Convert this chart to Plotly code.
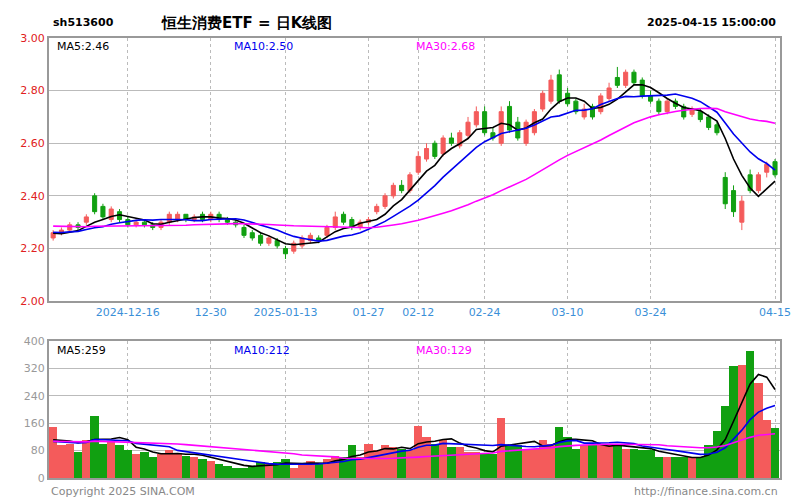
import plotly.graph_objects as go
import pandas as pd
import numpy as np

# trading days 2024-12-03 .. 2025-04-15 (China holidays removed)
holidays = ["2025-01-01", "2025-01-28", "2025-01-29", "2025-01-30", "2025-01-31",
            "2025-02-03", "2025-02-04", "2025-04-04"]
dates = [d for d in pd.bdate_range("2024-12-03", "2025-04-15").strftime("%Y-%m-%d") if d not in holidays]

opens = [2.24,2.26,2.27,2.29,2.30,2.40,2.36,2.31,2.34,2.31,2.29,2.30,2.29,2.28,2.30,2.31,2.33,2.31,2.33,
         2.31,2.33,2.31,2.30,2.28,2.26,2.25,2.22,2.23,2.20,2.19,2.21,2.23,2.24,2.25,2.28,2.33,2.31,2.28,
         2.30,2.34,2.36,2.40,2.44,2.42,2.49,2.54,2.60,2.56,2.62,2.59,2.63,2.67,2.72,2.64,2.60,2.74,2.68,
         2.60,2.64,2.73,2.76,2.86,2.79,2.76,2.70,2.74,2.72,2.77,2.85,2.82,2.87,2.84,2.78,2.76,2.72,2.76,
         2.74,2.71,2.72,2.70,2.67,2.47,2.42,2.30,2.48,2.42,2.49,2.53]
closes = [2.26,2.27,2.29,2.28,2.32,2.34,2.32,2.35,2.31,2.29,2.30,2.29,2.28,2.30,2.33,2.33,2.31,2.32,2.31,
          2.33,2.31,2.30,2.29,2.25,2.24,2.22,2.24,2.21,2.18,2.22,2.24,2.25,2.23,2.28,2.32,2.30,2.28,2.30,
          2.31,2.36,2.40,2.44,2.42,2.48,2.55,2.58,2.55,2.62,2.60,2.64,2.68,2.72,2.64,2.62,2.72,2.65,2.62,
          2.68,2.72,2.79,2.84,2.76,2.75,2.72,2.73,2.70,2.78,2.81,2.82,2.87,2.83,2.78,2.76,2.72,2.76,2.74,
          2.70,2.73,2.69,2.66,2.64,2.37,2.34,2.38,2.42,2.48,2.52,2.48]
highs = [2.27,2.28,2.30,2.30,2.33,2.41,2.37,2.36,2.35,2.32,2.31,2.31,2.30,2.31,2.34,2.34,2.33,2.33,2.34,
         2.34,2.34,2.32,2.31,2.29,2.27,2.26,2.25,2.24,2.21,2.23,2.25,2.26,2.25,2.29,2.34,2.34,2.32,2.31,
         2.32,2.37,2.41,2.45,2.46,2.49,2.57,2.60,2.61,2.63,2.64,2.65,2.70,2.74,2.74,2.66,2.74,2.76,2.70,
         2.69,2.73,2.80,2.86,2.88,2.81,2.77,2.75,2.75,2.79,2.83,2.89,2.88,2.88,2.85,2.80,2.77,2.77,2.77,
         2.75,2.74,2.73,2.71,2.68,2.49,2.44,2.40,2.50,2.49,2.53,2.54]
lows = [2.23,2.25,2.26,2.27,2.29,2.33,2.31,2.30,2.30,2.28,2.28,2.28,2.27,2.27,2.29,2.30,2.30,2.30,2.30,
        2.30,2.30,2.29,2.28,2.24,2.23,2.21,2.21,2.20,2.16,2.18,2.20,2.22,2.22,2.24,2.27,2.29,2.27,2.27,
        2.29,2.33,2.35,2.39,2.41,2.41,2.48,2.53,2.54,2.55,2.59,2.58,2.62,2.66,2.63,2.61,2.59,2.64,2.61,
        2.59,2.63,2.72,2.75,2.75,2.74,2.71,2.69,2.69,2.71,2.76,2.81,2.81,2.82,2.77,2.75,2.71,2.71,2.73,
        2.69,2.70,2.68,2.65,2.63,2.35,2.32,2.27,2.41,2.41,2.47,2.47]
volumes = [150,95,100,75,110,181,100,105,95,80,70,75,60,70,80,72,65,60,55,
           50,40,35,30,30,35,45,40,45,55,30,40,50,40,55,65,60,95,60,
           100,80,95,90,85,80,152,120,100,110,90,90,75,75,70,70,175,95,95,
           85,85,110,100,150,120,85,95,95,95,95,100,85,85,80,80,60,60,60,
           60,60,60,95,137,210,327,330,370,277,170,146]

# history before the window (used only for moving averages)
prior_closes = [2.30,2.31,2.32,2.30,2.29,2.31,2.33,2.32,2.30,2.28,2.27,2.29,2.30,2.31,2.30,
                2.28,2.26,2.27,2.29,2.30,2.28,2.27,2.26,2.25,2.27,2.28,2.26,2.25,2.24]
prior_volumes = [110,120,105,100,115,125,110,100,95,105,120,110,100,90,105,
                 115,120,110,100,95,105,110,100,95,100,105,110,100,95]

tick_idx = [9, 19, 28, 38, 44, 52, 62, 72, 87]
tick_text = ["2024-12-16", "12-30", "2025-01-13", "01-27", "02-12", "02-24", "03-10", "03-24", "04-15"]

n = len(closes)
x = list(range(n))
allc = pd.Series(prior_closes + closes)
allv = pd.Series(prior_volumes + volumes)
k = len(prior_closes)
ma = {p: allc.rolling(p, min_periods=1).mean().iloc[k:].values for p in (5, 10, 30)}
vma = {p: allv.rolling(p, min_periods=1).mean().iloc[k:].values for p in (5, 10, 30)}

RED = "#f45b5b"
GREEN = "#11a011"
cols = {5: "black", 10: "#0000ee", 30: "#ff00ff"}

fig = go.Figure()
fig.add_trace(go.Candlestick(x=x, open=opens, high=highs, low=lows, close=closes,
                             increasing=dict(line=dict(color=RED, width=1), fillcolor=RED),
                             decreasing=dict(line=dict(color=GREEN, width=1), fillcolor=GREEN),
                             whiskerwidth=0, xaxis="x", yaxis="y"))
for p in (5, 10, 30):
    fig.add_trace(go.Scatter(x=x, y=ma[p], mode="lines", line=dict(color=cols[p], width=1.6),
                             xaxis="x", yaxis="y"))
vcol = [RED if c >= o else GREEN for o, c in zip(opens, closes)]
fig.add_trace(go.Bar(x=x, y=volumes, marker=dict(color=vcol, line=dict(width=0)), width=1.0,
                     xaxis="x2", yaxis="y2"))
for p in (5, 10, 30):
    fig.add_trace(go.Scatter(x=x, y=vma[p], mode="lines", line=dict(color=cols[p], width=1.6),
                             xaxis="x2", yaxis="y2"))

xr = [-0.5, n - 0.4]
axbase = dict(showline=True, linecolor="#999", linewidth=2, mirror=True, zeroline=False)
fig.update_layout(
    width=800, height=500, showlegend=False, plot_bgcolor="white", paper_bgcolor="white",
    margin=dict(l=38, r=28, t=30, b=30), bargap=0,
    font=dict(family="DejaVu Sans", size=11),
    xaxis=dict(domain=[0, 1], range=xr, tickvals=tick_idx, ticktext=tick_text, ticks="",
               tickfont=dict(color="#3a8fd8", size=11), showgrid=True, gridcolor="#bbb",
               griddash="dot", rangeslider=dict(visible=False), anchor="y", **axbase),
    yaxis=dict(domain=[0.402, 1], range=[2.0, 3.0], tickvals=[2.0, 2.2, 2.4, 2.6, 2.8, 3.0],
               ticktext=["2.00", "2.20", "2.40", "2.60", "2.80", "3.00"],
               tickfont=dict(color="#e02020", size=11), showgrid=True, gridcolor="#bbb",
               ticklen=0, anchor="x", **axbase),
    xaxis2=dict(domain=[0, 1], range=xr, tickvals=tick_idx, showticklabels=False, ticks="",
                showgrid=True, gridcolor="#bbb", griddash="dot", anchor="y2", **axbase),
    yaxis2=dict(domain=[0, 0.311], range=[0, 400], tickvals=[0, 80, 160, 240, 320, 400],
                tickfont=dict(color="#999", size=11), showgrid=True, gridcolor="#bbb",
                anchor="x2", **axbase),
)

def lab(txt, xp, yp, color, size=11, anchor="left", bold=False):
    fig.add_annotation(text=("<b>%s</b>" % txt) if bold else txt, x=xp, y=yp, xref="paper",
                       yref="paper", xanchor=anchor, yanchor="middle", showarrow=False,
                       font=dict(color=color, size=size))

py = lambda ypx: (470 - ypx) / 440.0
pxx = lambda xpx: (xpx - 38) / 734.0
lab("sh513600", pxx(40), py(15), "black", 11, bold=True)
lab("恒生消费ETF = 日K线图", pxx(148), py(15), "black", 15, bold=True)
lab("2025-04-15 15:00:00", pxx(770), py(15), "black", 11, anchor="right", bold=True)
lab("MA5:%.2f" % ma[5][-1], pxx(44), py(38), "black")
lab("MA10:%.2f" % ma[10][-1], pxx(222), py(38), "#0000ee")
lab("MA30:%.2f" % ma[30][-1], pxx(404), py(38), "#ff00ff")
lab("MA5:%d" % round(vma[5][-1]), pxx(44), py(342), "black")
lab("MA10:%d" % round(vma[10][-1]), pxx(222), py(342), "#0000ee")
lab("MA30:%d" % round(vma[30][-1]), pxx(404), py(342), "#ff00ff")
lab("Copyright 2025 SINA.COM", pxx(38), py(484), "#888", 11)
lab("http://finance.sina.com.cn", pxx(772), py(484), "#888", 11, anchor="right")

fig.write_html("out.html")
